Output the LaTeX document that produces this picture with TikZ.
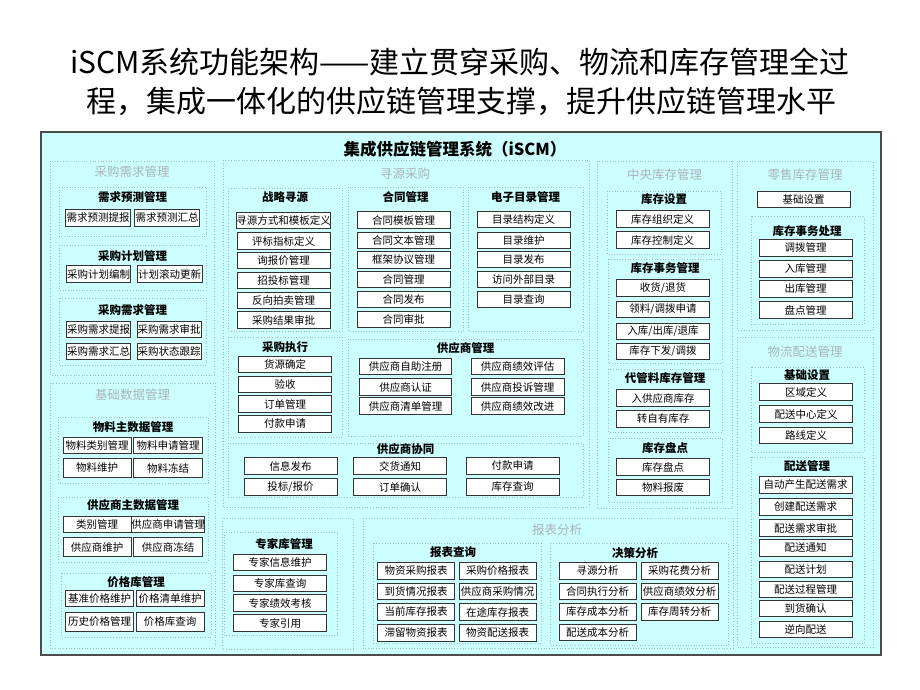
\documentclass[tikz,border=0pt]{standalone}
\usepackage{fontspec}
\setmainfont{Noto Sans CJK SC}
\definecolor{panelbg}{RGB}{204,255,255}
\definecolor{framec}{RGB}{160,190,200}
\definecolor{grptext}{RGB}{170,180,185}

\begin{document}
\begin{tikzpicture}[x=1pt,y=-1pt,
  panel/.style={draw=black!70,line width=1.2pt,fill=panelbg},
  grp/.style={draw=framec,dotted,line width=0.7pt},
  pagetitle/.style={inner sep=0pt,font=\fontsize{30}{32}\selectfont},
  maintitle/.style={inner sep=0pt,font=\fontsize{16.5}{18}\selectfont\bfseries},
  grptitle/.style={inner sep=0pt,text=grptext,font=\fontsize{12.5}{14}\selectfont},
  subtitle/.style={inner sep=0pt,font=\fontsize{11.5}{13}\selectfont\bfseries},
  item/.style={draw=black!80,fill=white,line width=0.8pt,inner sep=0pt,
    minimum width=#1,minimum height=16.5pt,font=\fontsize{10.5}{11}\selectfont},
  item/.default=93pt]
  \useasboundingbox (0,0) rectangle (920,690);

  % page title
  \node[pagetitle] (t1) at (460,62) {iSCM系统功能架构——建立贯穿采购、物流和库存管理全过};
  \node[pagetitle] (t2) at (461,101) {程，集成一体化的供应链管理支撑，提升供应链管理水平};

  % panel
  \draw[panel] (41,132) rectangle (881,655);
  \node[maintitle] (iscm) at (455,149) {集成供应链管理系统（iSCM）};

  % frames
  \draw[grp] (50,161) rectangle (214,375);
  \draw[grp] (59,187) rectangle (206,236);
  \draw[grp] (59,245) rectangle (206,290);
  \draw[grp] (59,298) rectangle (206,365);
  \draw[grp] (50,383) rectangle (215,648);
  \draw[grp] (58,417) rectangle (208,483);
  \draw[grp] (58,497) rectangle (208,562);
  \draw[grp] (61,573) rectangle (211,637);
  \draw[grp] (223,160) rectangle (589,507);
  \draw[grp] (228,188) rectangle (342,331);
  \draw[grp] (348,187) rectangle (463,331);
  \draw[grp] (468,187) rectangle (583,331);
  \draw[grp] (228,337) rectangle (342,437);
  \draw[grp] (348,339) rectangle (583,436);
  \draw[grp] (228,443) rectangle (583,497);
  \draw[grp] (222,518) rectangle (353,649);
  \draw[grp] (224,532) rectangle (337,635);
  \draw[grp] (363,518) rectangle (733,648);
  \draw[grp] (373,543) rectangle (541,643);
  \draw[grp] (550,543) rectangle (728,645);
  \draw[grp] (597,161) rectangle (732,508);
  \draw[grp] (607,191) rectangle (721,254);
  \draw[grp] (608,259) rectangle (722,363);
  \draw[grp] (608,369) rectangle (722,432);
  \draw[grp] (608,438) rectangle (722,502);
  \draw[grp] (737,161) rectangle (873,330);
  \draw[grp] (751,216) rectangle (864,324);
  \draw[grp] (737,337) rectangle (873,647);
  \draw[grp] (751,367) rectangle (864,452);
  \draw[grp] (751,457) rectangle (864,643);

  % 采购需求管理
  \node[grptitle] (demand) at (132,172) {采购需求管理};
  \node[subtitle] (fcst) at (132.5,197) {需求预测管理};
  \node[item=65pt] (fcst1) at (98,218) {需求预测提报};
  \node[item=65pt] (fcst2) at (167,218) {需求预测汇总};
  \node[subtitle] (plan) at (132.5,256) {采购计划管理};
  \node[item=64pt] (plan1) at (98.5,274) {采购计划编制};
  \node[item=65pt] (plan2) at (169.5,274) {计划滚动更新};
  \node[subtitle] (req) at (132.5,310) {采购需求管理};
  \node[item=64pt] (req1) at (98.5,329.5) {采购需求提报};
  \node[item=64pt] (req2) at (169,329.5) {采购需求审批};
  \node[item=64pt] (req3) at (98.5,351.5) {采购需求汇总};
  \node[item=64pt] (req4) at (169,351.5) {采购状态跟踪};

  % 基础数据管理
  \node[grptitle] (master) at (132.5,394.5) {基础数据管理};
  \node[subtitle] (mat) at (133,427) {物料主数据管理};
  \node[item=68pt] (mat1) at (97,445.5) {物料类别管理};
  \node[item=69pt] (mat2) at (168,445.5) {物料申请管理};
  \node[item=68pt,minimum height=19pt] (mat3) at (97,468) {物料维护};
  \node[item=69pt,minimum height=19pt] (mat4) at (168,468) {物料冻结};
  \node[subtitle] (sup) at (133,505.5) {供应商主数据管理};
  \node[item=68pt] (sup1) at (97,524.5) {类别管理};
  \node[item=69pt] (sup2) at (168,524.5) {供应商申请管理};
  \node[item=68pt,minimum height=19pt] (sup3) at (97,547) {供应商维护};
  \node[item=69pt,minimum height=19pt] (sup4) at (168,547) {供应商冻结};
  \node[subtitle] (price) at (136,582.5) {价格库管理};
  \node[item=68pt] (price1) at (99.5,598.5) {基准价格维护};
  \node[item=68pt] (price2) at (170,598.5) {价格清单维护};
  \node[item=68pt,minimum height=19pt] (price3) at (99.5,621.5) {历史价格管理};
  \node[item=68pt,minimum height=19pt] (price4) at (170,621.5) {价格库查询};

  % 寻源采购
  \node[grptitle] (sourcing) at (405,174) {寻源采购};
  \node[subtitle] (strat) at (285,197) {战略寻源};
  \node[item] (strat1) at (283.5,220.5) {寻源方式和模板定义};
  \node[item] (strat2) at (283.5,241) {评标指标定义};
  \node[item] (strat3) at (283.5,260.5) {询报价管理};
  \node[item] (strat4) at (283.5,280.5) {招投标管理};
  \node[item] (strat5) at (283.5,300.5) {反向拍卖管理};
  \node[item] (strat6) at (283.5,320) {采购结果审批};
  \node[subtitle] (contract) at (405.5,197) {合同管理};
  \node[item] (con1) at (403.5,220) {合同模板管理};
  \node[item] (con2) at (403.5,240.5) {合同文本管理};
  \node[item] (con3) at (403.5,260) {框架协议管理};
  \node[item] (con4) at (403.5,279.5) {合同管理};
  \node[item] (con5) at (403.5,299.5) {合同发布};
  \node[item] (con6) at (403.5,319.5) {合同审批};
  \node[subtitle] (catalog) at (525.5,197) {电子目录管理};
  \node[item] (cat1) at (523.5,219.5) {目录结构定义};
  \node[item] (cat2) at (523.5,240.5) {目录维护};
  \node[item] (cat3) at (523.5,259.5) {目录发布};
  \node[item] (cat4) at (523.5,279.5) {访问外部目录};
  \node[item] (cat5) at (523.5,299.5) {目录查询};
  \node[subtitle] (exec) at (285,347) {采购执行};
  \node[item] (exec1) at (285,364.5) {货源确定};
  \node[item] (exec2) at (285,384.5) {验收};
  \node[item] (exec3) at (285,404) {订单管理};
  \node[item] (exec4) at (285,424) {付款申请};
  \node[subtitle] (vendor) at (465.5,348.5) {供应商管理};
  \node[item=92pt] (ven1) at (405.5,366.5) {供应商自助注册};
  \node[item=92pt] (ven2) at (405.5,387) {供应商认证};
  \node[item=92pt] (ven3) at (405.5,406) {供应商清单管理};
  \node[item] (ven4) at (517.5,366.5) {供应商绩效评估};
  \node[item] (ven5) at (517.5,387) {供应商投诉管理};
  \node[item] (ven6) at (517.5,406) {供应商绩效改进};
  \node[subtitle] (collab) at (405.5,449.5) {供应商协同};
  \node[item] (col1) at (290.5,466) {信息发布};
  \node[item] (col2) at (290.5,487) {投标/报价};
  \node[item] (col3) at (400,466) {交货通知};
  \node[item] (col4) at (400,487) {订单确认};
  \node[item] (col5) at (512.5,466) {付款申请};
  \node[item] (col6) at (512.5,487) {库存查询};

  % 专家库管理
  \node[subtitle] (expert) at (284,544) {专家库管理};
  \node[item] (exp1) at (280,562.5) {专家信息维护};
  \node[item] (exp2) at (280,583.5) {专家库查询};
  \node[item] (exp3) at (280,603) {专家绩效考核};
  \node[item] (exp4) at (280,623) {专家引用};

  % 报表分析
  \node[grptitle] (report) at (557,529.5) {报表分析};
  \node[subtitle] (query) at (453,552.5) {报表查询};
  \node[item=77pt] (qry1) at (416,571) {物资采购报表};
  \node[item=77pt] (qry2) at (416,591.5) {到货情况报表};
  \node[item=77pt] (qry3) at (416,612) {当前库存报表};
  \node[item=77pt] (qry4) at (416,633) {滞留物资报表};
  \node[item=77pt] (qry5) at (497.5,571) {采购价格报表};
  \node[item=77pt] (qry6) at (497.5,591.5) {供应商采购情况};
  \node[item=77pt] (qry7) at (497.5,612) {在途库存报表};
  \node[item=77pt] (qry8) at (497.5,633) {物资配送报表};
  \node[subtitle] (decision) at (635,553.5) {决策分析};
  \node[item=77pt] (dec1) at (597.5,571) {寻源分析};
  \node[item=77pt] (dec2) at (597.5,591.5) {合同执行分析};
  \node[item=77pt] (dec3) at (597.5,612) {库存成本分析};
  \node[item=77pt] (dec4) at (597.5,632.5) {配送成本分析};
  \node[item=77pt] (dec5) at (679.5,571) {采购花费分析};
  \node[item=77pt] (dec6) at (679.5,591.5) {供应商绩效分析};
  \node[item=77pt] (dec7) at (679.5,612) {库存周转分析};

  % 中央库存管理
  \node[grptitle] (central) at (664.5,175) {中央库存管理};
  \node[subtitle] (setup) at (664,199.5) {库存设置};
  \node[item] (set1) at (662.5,219) {库存组织定义};
  \node[item] (set2) at (662.5,240) {库存控制定义};
  \node[subtitle] (trans) at (665,268.5) {库存事务管理};
  \node[item] (tr1) at (663,288) {收货/退货};
  \node[item] (tr2) at (663,309.5) {领料/调拨申请};
  \node[item] (tr3) at (663,331.5) {入库/出库/退库};
  \node[item] (tr4) at (663,351.5) {库存下发/调拨};
  \node[subtitle] (consign) at (665,378) {代管料库存管理};
  \node[item] (cons1) at (663,398) {入供应商库存};
  \node[item] (cons2) at (663,419) {转自有库存};
  \node[subtitle] (count) at (665,448.5) {库存盘点};
  \node[item] (cnt1) at (663,467) {库存盘点};
  \node[item] (cnt2) at (663,487.5) {物料报废};

  % 零售库存管理
  \node[grptitle] (retail) at (805,175) {零售库存管理};
  \node[item] (rbase) at (803.5,199.5) {基础设置};
  \node[subtitle] (rtrans) at (807,231) {库存事务处理};
  \node[item] (rt1) at (805.5,248) {调拨管理};
  \node[item] (rt2) at (805.5,269) {入库管理};
  \node[item] (rt3) at (805.5,289) {出库管理};
  \node[item] (rt4) at (805.5,310) {盘点管理};

  % 物流配送管理
  \node[grptitle] (logistics) at (805,352) {物流配送管理};
  \node[subtitle] (lbase) at (807,375) {基础设置};
  \node[item] (lb1) at (806,392) {区域定义};
  \node[item] (lb2) at (806,414) {配送中心定义};
  \node[item] (lb3) at (806,435.5) {路线定义};
  \node[subtitle] (deliv) at (807,466) {配送管理};
  \node[item] (dl1) at (805.5,485) {自动产生配送需求};
  \node[item] (dl2) at (805.5,507) {创建配送需求};
  \node[item] (dl3) at (805.5,528) {配送需求审批};
  \node[item] (dl4) at (805.5,548) {配送通知};
  \node[item] (dl5) at (805.5,569.5) {配送计划};
  \node[item] (dl6) at (805.5,589.5) {配送过程管理};
  \node[item] (dl7) at (805.5,608.5) {到货确认};
  \node[item] (dl8) at (805.5,629.5) {逆向配送};
\end{tikzpicture}
\end{document}
